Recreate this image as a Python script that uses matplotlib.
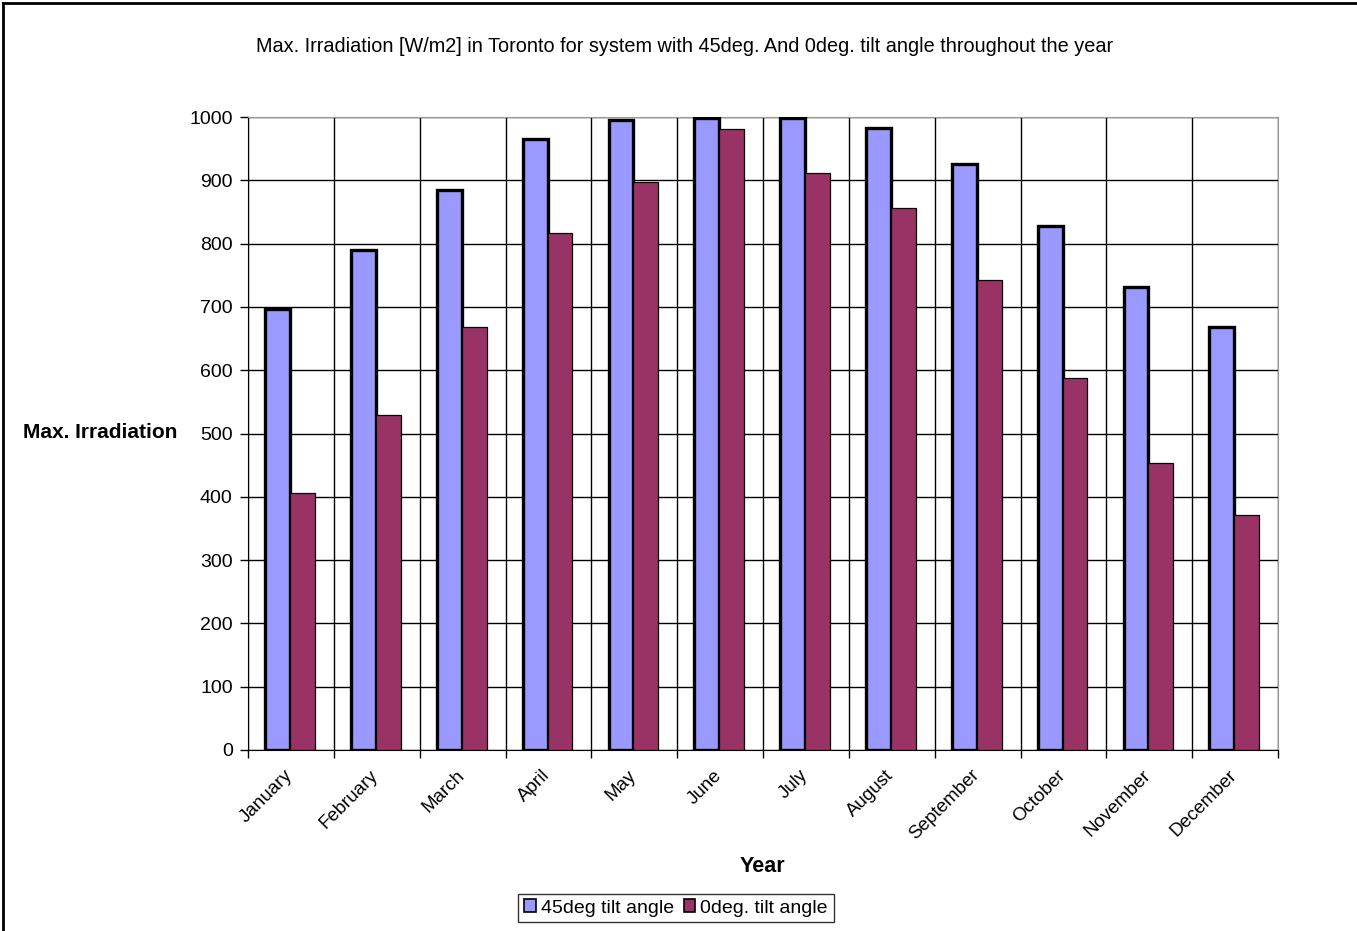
import matplotlib.pyplot as plt
import numpy as np
from matplotlib.lines import Line2D

plt.rcParams['font.family'] = ['Liberation Sans', 'DejaVu Sans']

months = ['January', 'February', 'March', 'April', 'May', 'June', 'July',
          'August', 'September', 'October', 'November', 'December']
tilt_45 = [697, 790, 885, 965, 995, 999, 999, 983, 926, 828, 732, 669]
tilt_0 = [406, 529, 668, 817, 897, 981, 912, 856, 743, 588, 454, 372]
y_ticks = [0, 100, 200, 300, 400, 500, 600, 700, 800, 900, 1000]

blue = '#9999FF'
plum = '#993366'

fig = plt.figure(figsize=(13.57, 9.31), dpi=100)
ax = fig.add_axes([248 / 1357, 1 - 750 / 931, (1278 - 248) / 1357, (750 - 117) / 931])

x = np.arange(len(months))
w = 0.29
ax.bar(x - w / 2 - 0.01, tilt_45, w, color=blue, edgecolor='black', linewidth=2.4,
       label='45deg tilt angle', zorder=3)
ax.bar(x + w / 2 - 0.01, tilt_0, w, color=plum, edgecolor='black', linewidth=0.9,
       label='0deg. tilt angle', zorder=3)

ax.set_xlim(-0.5, len(months) - 0.5)
ax.set_ylim(0, 1000)
ax.set_yticks(y_ticks)
ax.set_xticks(x - 0.08)
ax.set_xticklabels(months, rotation=45, ha='right', rotation_mode='anchor', fontsize=13.5)
ax.tick_params(axis='x', length=0, pad=12)
ax.set_xticks(np.arange(len(months) + 1) - 0.5, minor=True)
ax.tick_params(axis='x', which='minor', length=6, width=1, direction='out')
ax.tick_params(axis='y', length=6, width=1, direction='out', labelsize=14, pad=5)

ax.grid(True, axis='y', which='major', color='black', linewidth=1, zorder=0)
ax.grid(True, axis='x', which='minor', color='black', linewidth=1, zorder=0)
for side in ['top', 'right']:
    ax.spines[side].set_color('#999999')
for side in ['left', 'bottom']:
    ax.spines[side].set_color('black')

fig.text(685 / 1357, 1 - 46 / 931, 'Max. Irradiation [W/m2] in Toronto for system with 45deg. And 0deg. tilt angle throughout the year',
         ha='center', va='center', fontsize=14.3)
fig.text(100 / 1357, 1 - 433 / 931, 'Max. Irradiation', ha='center', va='center',
         fontsize=15, fontweight='bold')
fig.text(762 / 1357, 1 - 867 / 931, 'Year', ha='center', va='center',
         fontsize=15.5, fontweight='bold')

leg = fig.legend(loc='center', bbox_to_anchor=(676 / 1357, 1 - 908 / 931), ncol=2,
                 fontsize=14, frameon=True, fancybox=False, edgecolor='black',
                 handlelength=0.6, handleheight=0.6, handletextpad=0.25,
                 columnspacing=0.5, borderpad=0.3, borderaxespad=0)
leg.get_frame().set_linewidth(1)
for h in leg.legend_handles:
    h.set_linewidth(1.2)

# outer chart border (top and left visible)
fig.add_artist(Line2D([3 / 1357, 3 / 1357], [0, 1 - 3 / 931], color='black', linewidth=2,
                      transform=fig.transFigure))
fig.add_artist(Line2D([3 / 1357, 1], [1 - 3 / 931, 1 - 3 / 931], color='black', linewidth=2,
                      transform=fig.transFigure))

fig.savefig('out.png', dpi=100)
